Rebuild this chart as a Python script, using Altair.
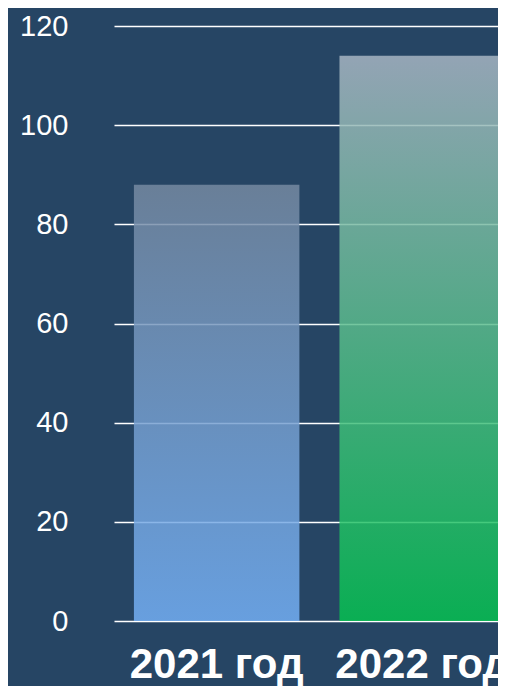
import altair as alt
import pandas as pd

years = ["2021 год", "2022 год"]
values = [88, 114]
y_ticks = [0, 20, 40, 60, 80, 100, 120]

bg = "#264564"
df = pd.DataFrame({"year": years, "value": values})

x_enc = alt.X("year:N", sort=years,
              scale=alt.Scale(range=[0, 392], paddingInner=0.195, paddingOuter=0.051, align=0.95),
              axis=alt.Axis(title=None, labelAngle=0, ticks=False, domain=False, grid=False,
                            labelFont="Liberation Sans", labelFontSize=42, labelFontWeight="bold",
                            labelColor="#ffffff", labelBaseline="alphabetic", labelPadding=56,
                            labelOverlap=False, labelBound=False, labelFlush=False))
y_enc = alt.Y("value:Q", scale=alt.Scale(domain=[0, 120], nice=False),
              axis=alt.Axis(title=None, values=y_ticks, ticks=False, domain=False,
                            grid=True, gridColor="#ffffff", gridWidth=1.6, gridOpacity=1,
                            labelFont="Liberation Sans", labelFontSize=29, labelColor="#ffffff",
                            labelPadding=46, labelBaseline="middle"))

grad1 = alt.Gradient(gradient="linear", x1=0, x2=0, y1=0, y2=1,
                     stops=[alt.GradientStop(offset=0, color="#768aa2"),
                            alt.GradientStop(offset=1, color="#74b0f6")])
grad2 = alt.Gradient(gradient="linear", x1=0, x2=0, y1=0, y2=1,
                     stops=[alt.GradientStop(offset=0, color="#a8b6c4"),
                            alt.GradientStop(offset=1, color="#05c250")])

base = alt.Chart(df).encode(x=x_enc, y=y_enc)
b1 = base.transform_filter(alt.datum.year == years[0]).mark_bar(fill=grad1, opacity=0.84)
b2 = base.transform_filter(alt.datum.year == years[1]).mark_bar(fill=grad2, opacity=0.84)

chart = alt.layer(b1, b2).properties(
    width=384, height=595, background=bg,
    autosize=alt.AutoSizeParams(type="none"),
    padding={"left": 106, "top": 18, "right": 0, "bottom": 65},
).configure_view(stroke=None)

chart.save("out.html", embed_options={"renderer": "svg", "actions": False})
